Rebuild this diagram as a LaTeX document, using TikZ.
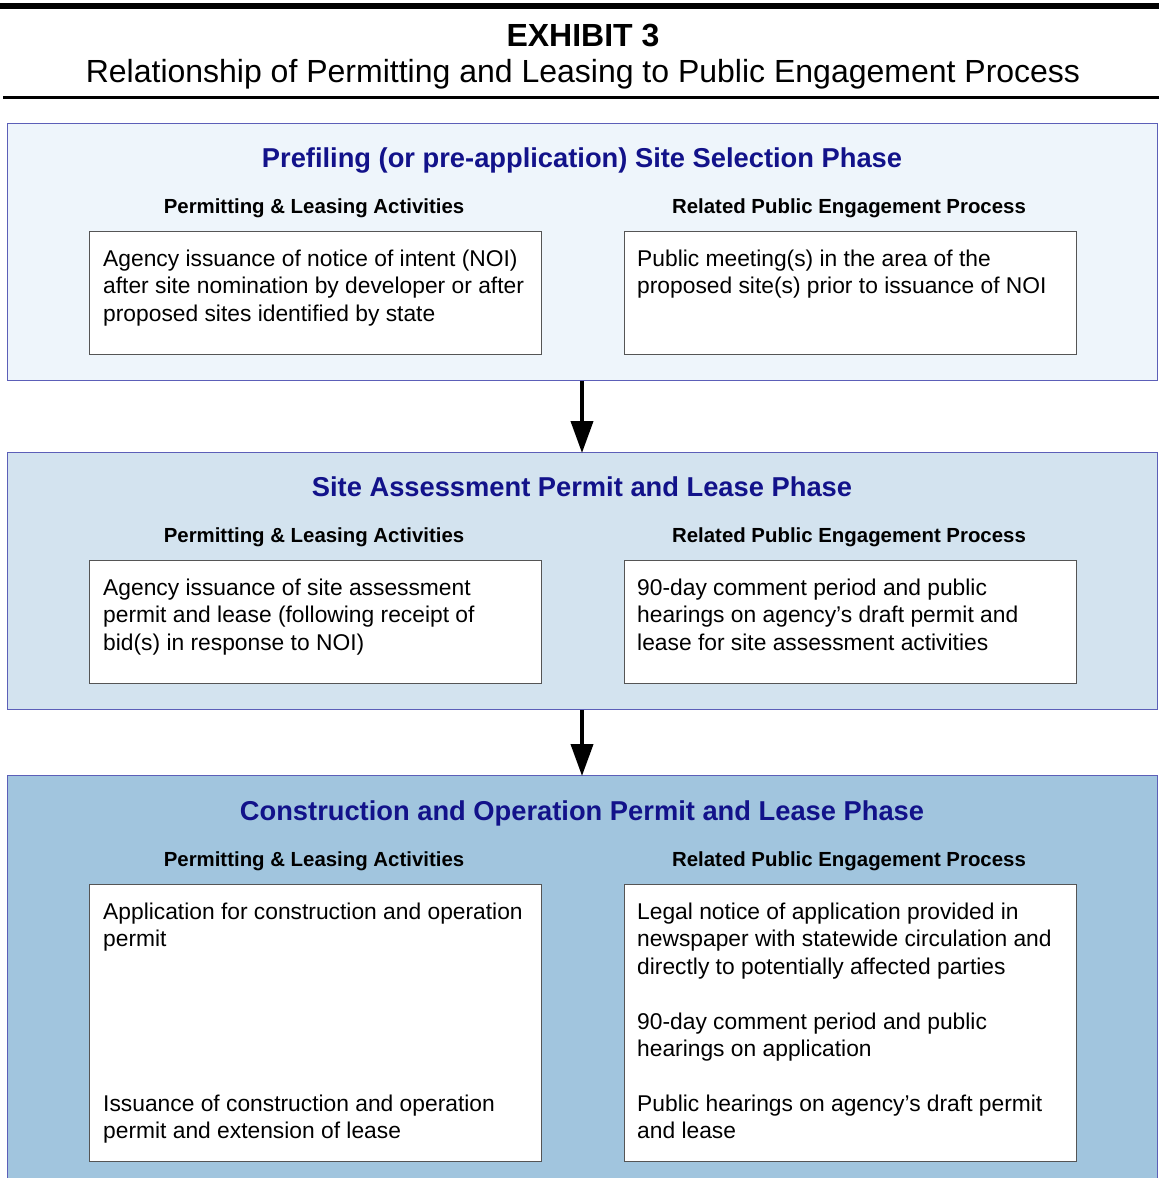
\documentclass[tikz,border=0pt]{standalone}
\usepackage{fontspec}
\setmainfont{Liberation Sans}
\usetikzlibrary{arrows.meta}

\definecolor{panelA}{HTML}{EEF5FB}
\definecolor{panelB}{HTML}{D3E3EF}
\definecolor{panelC}{HTML}{A1C5DE}
\definecolor{panelRule}{HTML}{5C5FB8}
\definecolor{phaseBlue}{HTML}{12128A}
\definecolor{boxRule}{HTML}{555555}

\newcommand{\bodyfont}{\fontsize{22.8}{27.5}\selectfont}

\begin{document}
\begin{tikzpicture}[x=1pt, y=-1pt,
  panel/.style={draw=panelRule, line width=1.3pt, rectangle, inner sep=0pt,
    anchor=north west, minimum width=1150pt},
  phasetitle/.style={font=\fontsize{27.3}{32}\selectfont\bfseries, text=phaseBlue, anchor=base, inner sep=0pt},
  colhead/.style={font=\fontsize{20.4}{24}\selectfont\bfseries, anchor=base, inner sep=0pt},
  entry/.style={draw=boxRule, fill=white, line width=1pt, rectangle, inner sep=0pt,
    anchor=north west, minimum width=452pt},
  entrytext/.style={font=\bodyfont, align=left, anchor=north west, inner sep=0pt},
  flow/.style={line width=4pt, -{Triangle[length=32pt,width=22pt]}, shorten >=-1pt}
]
\useasboundingbox (0,0) rectangle (1159,1178);
\clip (0,0) rectangle (1159,1178);

% heading block
\fill[black] (0,3) rectangle (1159,9);
\node[font=\fontsize{32}{36}\selectfont\bfseries, anchor=base, inner sep=0pt] (exh) at (583,46) {EXHIBIT 3};
\node[font=\fontsize{32}{36}\selectfont, anchor=base, inner sep=0pt] (sub) at (583,82)
  {Relationship of Permitting and Leasing to Public Engagement Process};
\fill[black] (3,96) rectangle (1159,98.5);

% phase panels
\node[panel, fill=panelA, minimum height=257pt] (p1) at (7,123) {};
\node[panel, fill=panelB, minimum height=257pt] (p2) at (7,452) {};
\node[panel, fill=panelC, minimum height=430pt] (p3) at (7,775) {};

% phase 1
\node[phasetitle] (t1) at (582,167) {Prefiling (or pre-application) Site Selection Phase};
\node[colhead] (h1l) at (314,213) {Permitting \& Leasing Activities};
\node[colhead] (h1r) at (849,213) {Related Public Engagement Process};
\node[entry, minimum height=123pt] (b1l) at (89,231) {};
\node[entry, minimum height=123pt] (b1r) at (624,231) {};
\node[entrytext] (x1l) at (103,246.7) {\strut Agency issuance of notice of intent (NOI)\\after site nomination by developer or after\\proposed sites identified by state};
\node[entrytext] (x1r) at (637,246.7) {\strut Public meeting(s) in the area of the\\proposed site(s) prior to issuance of NOI};

% phase 2
\node[phasetitle] (t2) at (582,496) {Site Assessment Permit and Lease Phase};
\node[colhead] (h2l) at (314,542) {Permitting \& Leasing Activities};
\node[colhead] (h2r) at (849,542) {Related Public Engagement Process};
\node[entry, minimum height=123pt] (b2l) at (89,560) {};
\node[entry, minimum height=123pt] (b2r) at (624,560) {};
\node[entrytext] (x2l) at (103,575.7) {\strut Agency issuance of site assessment\\permit and lease (following receipt of\\bid(s) in response to NOI)};
\node[entrytext] (x2r) at (637,575.7) {\strut 90-day comment period and public\\hearings on agency’s draft permit and\\lease for site assessment activities};

% phase 3
\node[phasetitle] (t3) at (582,820) {Construction and Operation Permit and Lease Phase};
\node[colhead] (h3l) at (314,866) {Permitting \& Leasing Activities};
\node[colhead] (h3r) at (849,866) {Related Public Engagement Process};
\node[entry, minimum height=277pt] (b3l) at (89,884) {};
\node[entry, minimum height=277pt] (b3r) at (624,884) {};
\node[entrytext] (x3la) at (103,899.7) {\strut Application for construction and operation\\permit};
\node[entrytext] (x3lb) at (103,1091.7) {\strut Issuance of construction and operation\\permit and extension of lease};
\node[entrytext] (x3ra) at (637,899.7) {\strut Legal notice of application provided in\\newspaper with statewide circulation and\\directly to potentially affected parties};
\node[entrytext] (x3rb) at (637,1009.7) {\strut 90-day comment period and public\\hearings on application};
\node[entrytext] (x3rc) at (637,1091.7) {\strut Public hearings on agency’s draft permit\\and lease};

% phase-to-phase arrows
\draw[flow] (p1.south -| 582,0) -- (p2.north -| 582,0);
\draw[flow] (p2.south -| 582,0) -- (p3.north -| 582,0);
\end{tikzpicture}
\end{document}
